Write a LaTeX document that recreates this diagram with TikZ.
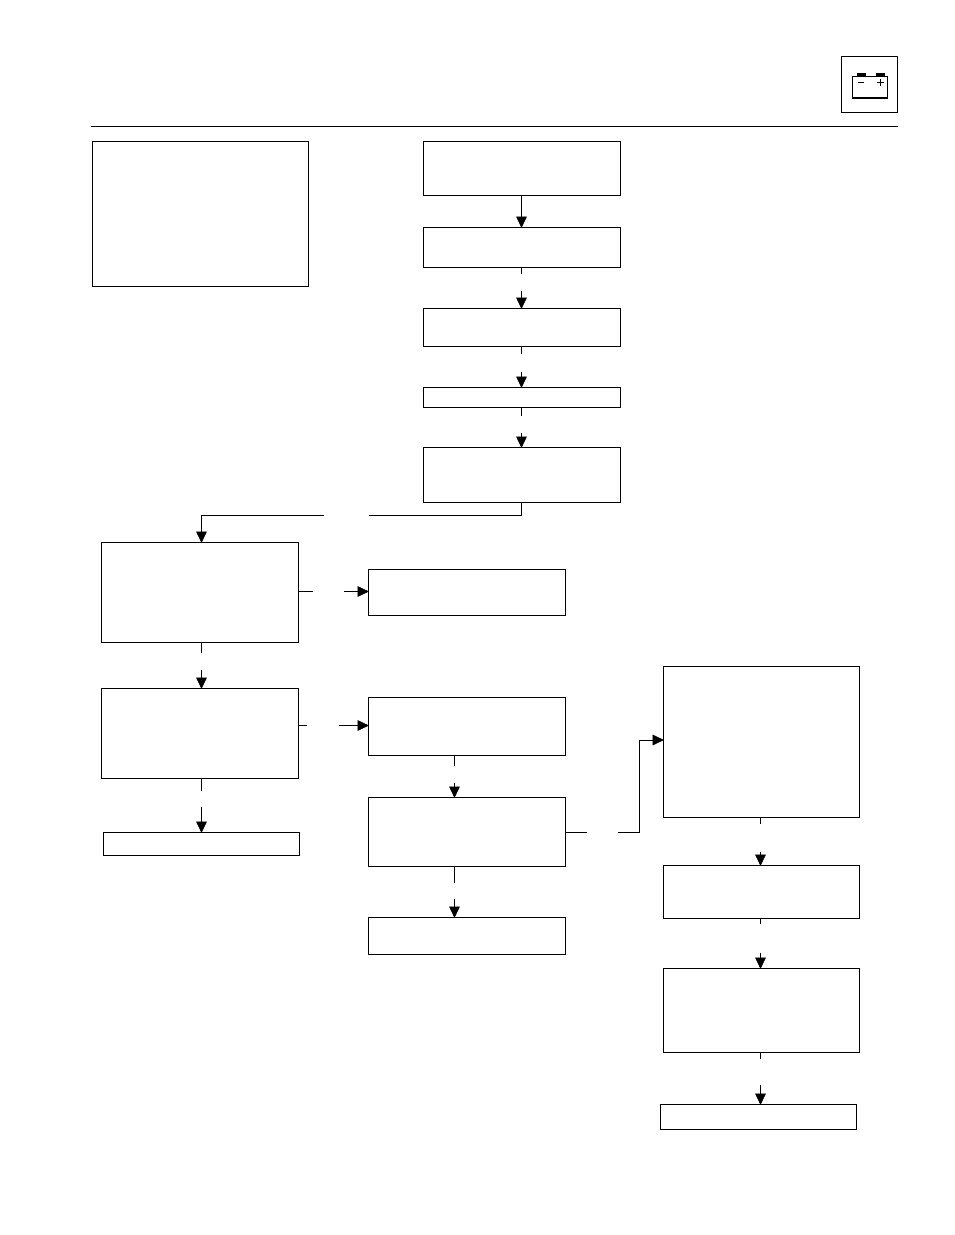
\documentclass[tikz,border=0pt]{standalone}
\usetikzlibrary{arrows.meta}
\tikzset{
  flowbox/.style={draw=black, line width=0.6pt, inner sep=0pt, outer sep=0pt, anchor=north west},
  link/.style={line width=0.6pt},
  arrowlink/.style={line width=0.6pt, -{Triangle[width=8pt,length=8.5pt]}, shorten >=-0.3pt},
}
\begin{document}
\begin{tikzpicture}[
  x=0.75pt, y=-0.75pt,
]
\useasboundingbox (0,0) rectangle (954,1235);

% Header rule and battery icon
\draw[line width=0.6pt] (91,126.5) -- (898,126.5);
\node[flowbox, minimum width=42pt, minimum height=42pt] (iconframe) at (841.5,56.5) {};
\draw[line width=0.5pt] (852.5,98) -- (852.5,76.5) -- (887.5,76.5) -- (887.5,98);
\draw[line width=1.5pt] (852,98) -- (888,98);
\fill (857,73) rectangle (865.5,76.5);
\fill (876,73) rectangle (884.5,76.5);
\draw[line width=0.7pt] (858,82.5) -- (864,82.5);
\draw[line width=0.7pt] (876.5,82.5) -- (883.5,82.5) (880,79) -- (880,86);

\begin{scope}[shift={(0.5,0.5)}]
% Boxes: name/left/top/width/height
\foreach \name/\l/\t/\w/\h in {
  notebox/92/141/216/145,
  stepa/423/141/197/54, stepb/423/227/197/40, stepc/423/308/197/38,
  stepd/423/387/197/20, stepe/423/447/197/55,
  checka/101/542/197/100, checkb/101/688/197/90, enda/103/832/196/23,
  faulta/368/569/197/46, faultb/368/697/197/58, faultc/368/797/197/69, endb/368/917/197/37,
  testa/663/666/196/151, testb/663/865/196/53, testc/663/968/196/84, endc/660/1104/196/25%
} {
  \node[flowbox, minimum width=\w*0.75pt, minimum height=\h*0.75pt] (\name) at (\l,\t) {};
}

% Free ends either side of the gaps
\coordinate (gapb) at (521,273);
\coordinate (gapbb) at (521,290);
\coordinate (gapc) at (521,353);
\coordinate (gapcc) at (521,371);
\coordinate (gapd) at (521,415);
\coordinate (gapdd) at (521,432);
\coordinate (gape) at (368,515);
\coordinate (gapee) at (323.5,515);
\coordinate (gapf) at (312.5,591);
\coordinate (gapff) at (343.5,591);
\coordinate (gapg) at (201,652);
\coordinate (gapgg) at (201,669);
\coordinate (gaph) at (306.5,725);
\coordinate (gaphh) at (338.5,725);
\coordinate (gapi) at (201,790);
\coordinate (gapii) at (201,806);
\coordinate (gapj) at (454,765);
\coordinate (gapjj) at (454,782);
\coordinate (gapk) at (454,882);
\coordinate (gapkk) at (454,898);
\coordinate (gapl) at (586.5,832);
\coordinate (gapll) at (617.5,832);
\coordinate (gapm) at (760,823);
\coordinate (gapmm) at (760,851);
\coordinate (gapn) at (760,923);
\coordinate (gapnn) at (760,952);
\coordinate (gapo) at (760,1058);
\coordinate (gapoo) at (760,1084);

% Centre column
\draw[arrowlink] (stepa.south -| gapb) -- (stepb.north -| gapb);
\draw[link] (stepb.south -| gapb) -- (gapb);
\draw[arrowlink] (gapbb) -- (stepc.north -| gapbb);
\draw[link] (stepc.south -| gapc) -- (gapc);
\draw[arrowlink] (gapcc) -- (stepd.north -| gapcc);
\draw[link] (stepd.south -| gapd) -- (gapd);
\draw[arrowlink] (gapdd) -- (stepe.north -| gapdd);
\draw[link] (stepe.south -| gapd) |- (gape);
\draw[arrowlink] (gapee) -| (checka.north -| gapg);

% Left column
\draw[link] (checka.east |- gapf) -- (gapf);
\draw[arrowlink] (gapff) -- (faulta.west |- gapff);
\draw[link] (checka.south -| gapg) -- (gapg);
\draw[arrowlink] (gapgg) -- (checkb.north -| gapgg);
\draw[link] (checkb.east |- gaph) -- (gaph);
\draw[arrowlink] (gaphh) -- (faultb.west |- gaphh);
\draw[link] (checkb.south -| gapi) -- (gapi);
\draw[arrowlink] (gapii) -- (enda.north -| gapii);

% Middle column
\draw[link] (faultb.south -| gapj) -- (gapj);
\draw[arrowlink] (gapjj) -- (faultc.north -| gapjj);
\draw[link] (faultc.south -| gapk) -- (gapk);
\draw[arrowlink] (gapkk) -- (endb.north -| gapkk);
\draw[link] (faultc.east |- gapl) -- (gapl);
\draw[arrowlink] (gapll) -- (639,832) |- (testa.west |- 0,739.5);

% Right column
\draw[link] (testa.south -| gapm) -- (gapm);
\draw[arrowlink] (gapmm) -- (testb.north -| gapmm);
\draw[link] (testb.south -| gapn) -- (gapn);
\draw[arrowlink] (gapnn) -- (testc.north -| gapnn);
\draw[link] (testc.south -| gapo) -- (gapo);
\draw[arrowlink] (gapoo) -- (endc.north -| gapoo);
\end{scope}

\end{tikzpicture}
\end{document}
